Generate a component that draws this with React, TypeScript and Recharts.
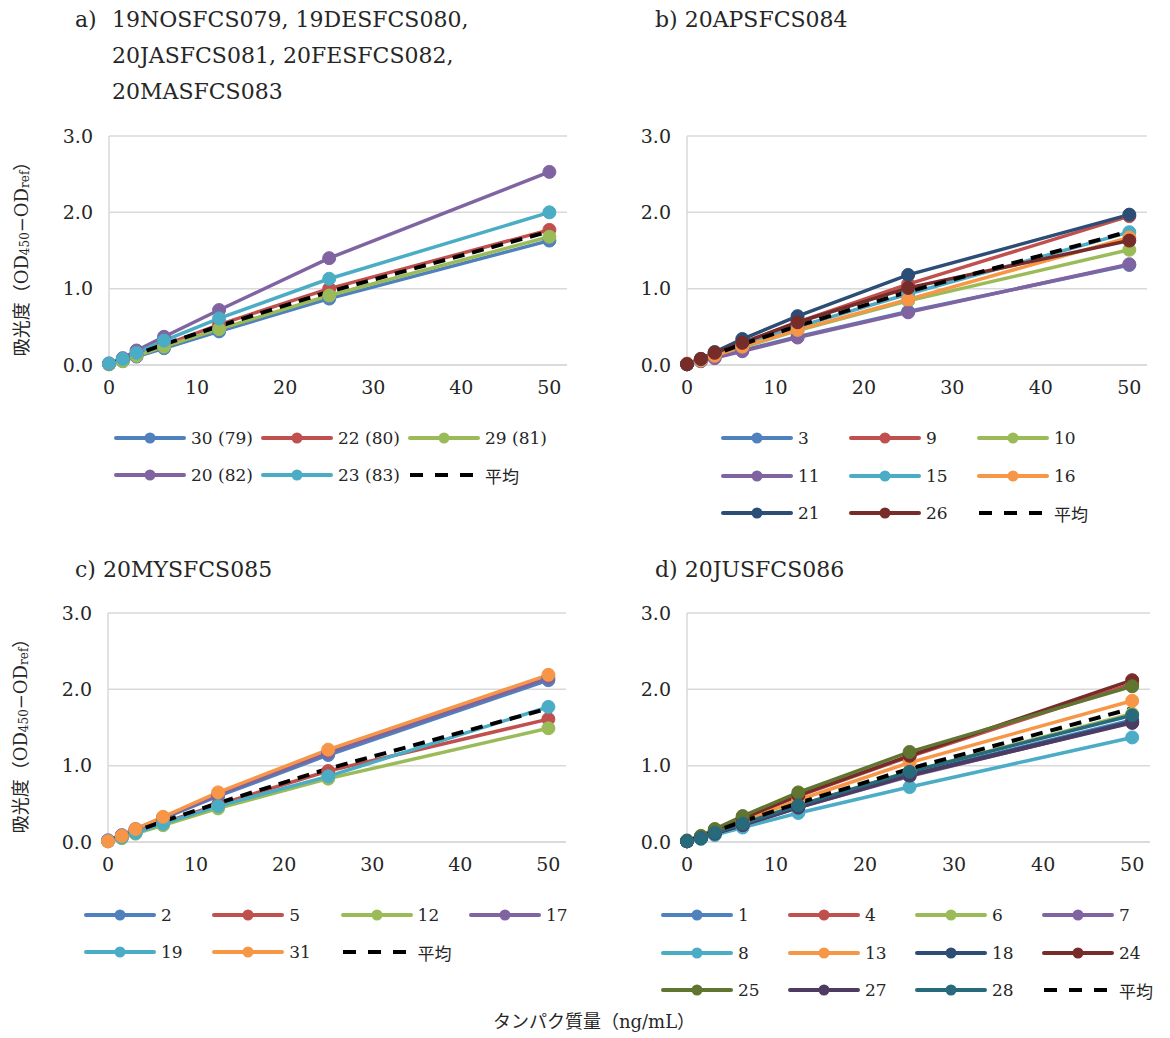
import React from 'react';
import { LineChart, Line, XAxis, YAxis, CartesianGrid, Label } from 'recharts';

const FONT = '"DejaVu Serif", "Noto Sans CJK JP", serif';
const TXT = '#262626';

// x values (ng/mL)
const xValues = [0, 1.5625, 3.125, 6.25, 12.5, 25, 50];
const xTicks = [0, 10, 20, 30, 40, 50];
const yTicks = [0, 1, 2, 3];

// average (平均) shared by all panels
const averageValues = [0.01, 0.07, 0.14, 0.27, 0.51, 0.96, 1.75];

const palette = ['#4F81BD', '#C0504D', '#9BBB59', '#8064A2', '#4BACC6', '#F79646', '#2C4D75', '#772C2A', '#5F7530', '#4D3B62', '#276A7C'];

// Panel a
const labelsA = ['30 (79)', '22 (80)', '29 (81)', '20 (82)', '23 (83)'];
const valuesA = [
  [0.01, 0.05, 0.11, 0.22, 0.44, 0.87, 1.63],
  [0.01, 0.06, 0.13, 0.26, 0.53, 1.0, 1.77],
  [0.01, 0.05, 0.12, 0.24, 0.47, 0.91, 1.68],
  [0.02, 0.09, 0.19, 0.37, 0.72, 1.4, 2.53],
  [0.02, 0.08, 0.16, 0.32, 0.61, 1.13, 2.0],
];
const colorsA = [palette[0], palette[1], palette[2], palette[3], palette[4]];

// Panel b
const labelsB = ['3', '9', '10', '11', '15', '16', '21', '26'];
const valuesB = [
  [0.01, 0.05, 0.1, 0.19, 0.37, 0.7, 1.31],
  [0.01, 0.07, 0.14, 0.29, 0.56, 1.06, 1.95],
  [0.01, 0.06, 0.12, 0.23, 0.45, 0.84, 1.51],
  [0.01, 0.05, 0.09, 0.18, 0.36, 0.69, 1.32],
  [0.01, 0.06, 0.13, 0.26, 0.5, 0.93, 1.74],
  [0.02, 0.06, 0.12, 0.24, 0.46, 0.86, 1.67],
  [0.01, 0.08, 0.17, 0.34, 0.64, 1.18, 1.97],
  [0.01, 0.08, 0.16, 0.29, 0.56, 1.01, 1.63],
];
const colorsB = palette.slice(0, 8);

// Panel c
const labelsC = ['2', '5', '12', '17', '19', '31'];
const valuesC = [
  [0.02, 0.08, 0.16, 0.31, 0.6, 1.14, 2.12],
  [0.01, 0.06, 0.12, 0.25, 0.49, 0.93, 1.61],
  [0.01, 0.05, 0.11, 0.22, 0.44, 0.83, 1.49],
  [0.02, 0.09, 0.17, 0.32, 0.62, 1.17, 2.15],
  [0.01, 0.06, 0.12, 0.24, 0.47, 0.86, 1.77],
  [0.01, 0.08, 0.17, 0.33, 0.65, 1.21, 2.19],
];
const colorsC = palette.slice(0, 6);

// Panel d
const labelsD = ['1', '4', '6', '7', '8', '13', '18', '24', '25', '27', '28'];
const valuesD = [
  [0.01, 0.05, 0.11, 0.22, 0.46, 0.88, 1.6],
  [0.01, 0.07, 0.15, 0.3, 0.6, 1.12, 2.07],
  [0.01, 0.06, 0.12, 0.25, 0.48, 0.92, 1.68],
  [0.01, 0.05, 0.11, 0.22, 0.45, 0.86, 1.57],
  [0.01, 0.04, 0.09, 0.19, 0.38, 0.72, 1.37],
  [0.01, 0.06, 0.13, 0.27, 0.55, 1.04, 1.85],
  [0.01, 0.05, 0.11, 0.23, 0.46, 0.88, 1.58],
  [0.01, 0.07, 0.16, 0.31, 0.61, 1.13, 2.12],
  [0.02, 0.08, 0.17, 0.34, 0.65, 1.18, 2.04],
  [0.01, 0.05, 0.11, 0.22, 0.45, 0.87, 1.56],
  [0.01, 0.05, 0.12, 0.24, 0.48, 0.92, 1.66],
];
const colorsD = palette.slice(0, 11);

const AVG_LABEL = '平均';

const YW = 109;
const MT = 10;
const MR = 5;
const XH = 40;

function YTitle(props: any) {
  const vb = props.viewBox || { x: 0, y: 0, width: 0, height: 0 };
  const cx = 21;
  const cy = vb.y + vb.height / 2 + 4;
  return (
    <text
      x={cx}
      y={cy}
      transform={`rotate(-90 ${cx} ${cy})`}
      textAnchor="middle"
      dominantBaseline="central"
      fontSize={18}
      fontFamily={FONT}
      fill={TXT}
    >
      吸光度（OD
      <tspan fontSize={12} dy={4}>450</tspan>
      <tspan dy={-4}>−OD</tspan>
      <tspan fontSize={12} dy={4}>ref</tspan>
      <tspan dy={-4}>）</tspan>
    </text>
  );
}

type PanelProps = {
  L: number; T: number; R: number; B: number;
  labels: string[]; values: number[][]; colors: string[];
  yTitle: boolean;
};

function Panel({ L, T, R, B, labels, values, colors, yTitle }: PanelProps) {
  const data = xValues.map((x, i) => {
    const row: any = { x, avg: averageValues[i] };
    values.forEach((s, k) => { row['s' + k] = s[i]; });
    return row;
  });
  const width = R - L + YW + MR;
  const height = B - T + MT + XH;
  return (
    <div style={{ position: 'absolute', left: L - YW, top: T - MT, width, height }}>
      <LineChart width={width} height={height} data={data} margin={{ top: MT, right: MR, bottom: 0, left: 0 }}>
        <CartesianGrid vertical={false} stroke="#D9D9D9" strokeWidth={1.5} />
        <XAxis
          dataKey="x"
          type="number"
          domain={[0, 52]}
          ticks={xTicks}
          interval={0}
          height={XH}
          tickLine={false}
          tickSize={0}
          tickMargin={16}
          axisLine={{ stroke: '#D9D9D9', strokeWidth: 1.5 }}
          tick={{ fill: TXT, fontSize: 19, fontFamily: FONT }}
          allowDecimals={false}
        />
        <YAxis
          type="number"
          domain={[0, 3]}
          ticks={yTicks}
          interval={0}
          width={YW}
          tickLine={false}
          tickSize={0}
          tickMargin={16}
          axisLine={{ stroke: '#D9D9D9', strokeWidth: 1.5 }}
          tick={{ fill: TXT, fontSize: 19, fontFamily: FONT }}
          tickFormatter={(v: number) => v.toFixed(1)}
        >
          {yTitle ? <Label content={(p: any) => <YTitle {...p} />} /> : null}
        </YAxis>
        {values.map((_, k) => (
          <Line
            key={k}
            type="linear"
            dataKey={'s' + k}
            stroke={colors[k]}
            strokeWidth={3.5}
            dot={{ r: 6.5, fill: colors[k], stroke: colors[k], strokeWidth: 1 }}
            activeDot={false}
            isAnimationActive={false}
          />
        ))}
        <Line
          type="linear"
          dataKey="avg"
          stroke="#000000"
          strokeWidth={4}
          strokeDasharray="12 8"
          dot={false}
          activeDot={false}
          isAnimationActive={false}
        />
      </LineChart>
    </div>
  );
}

type LegendProps = {
  labels: string[]; colors: string[];
  left: number; colW: number; rows: number[]; perRow: number;
};

function LegendBox({ labels, colors, left, colW, rows, perRow }: LegendProps) {
  const items = labels.map((l, i) => ({ label: l, color: colors[i], avg: false }));
  items.push({ label: AVG_LABEL, color: '#000', avg: true });
  return (
    <>
      {items.map((it, i) => {
        const r = Math.floor(i / perRow);
        const c = i % perRow;
        return (
          <div
            key={i}
            style={{
              position: 'absolute',
              left: left + c * colW,
              top: rows[r] - 11,
              height: 22,
              display: 'flex',
              alignItems: 'center',
              whiteSpace: 'nowrap',
              fontFamily: FONT,
              fontSize: 17,
              color: TXT,
            }}
          >
            <svg width={72} height={14} style={{ display: 'block' }}>
              {it.avg ? (
                <line x1={2} x2={70} y1={7} y2={7} stroke="#000" strokeWidth={4} strokeDasharray="13 12" />
              ) : (
                <>
                  <line x1={2} x2={70} y1={7} y2={7} stroke={it.color} strokeWidth={4} strokeLinecap="round" />
                  <circle cx={36} cy={7} r={5.5} fill={it.color} />
                </>
              )}
            </svg>
            <span style={{ marginLeft: 5 }}>{it.label}</span>
          </div>
        );
      })}
    </>
  );
}

export default function App() {
  const titleStyle: React.CSSProperties = {
    position: 'absolute',
    fontFamily: FONT,
    fontSize: 22,
    lineHeight: '36px',
    color: TXT,
    whiteSpace: 'nowrap',
  };
  return (
    <div style={{ position: 'absolute', left: 0, top: 0, width: 1170, height: 1038, background: '#fff', overflow: 'hidden' }}>
      <div style={{ ...titleStyle, left: 75, top: 2 }}>a)</div>
      <div style={{ ...titleStyle, left: 112, top: 2 }}>
        19NOSFCS079, 19DESFCS080,<br />20JASFCS081, 20FESFCS082,<br />20MASFCS083
      </div>
      <div style={{ ...titleStyle, left: 655, top: 2 }}>b) 20APSFCS084</div>
      <div style={{ ...titleStyle, left: 75, top: 552 }}>c) 20MYSFCS085</div>
      <div style={{ ...titleStyle, left: 655, top: 552 }}>d) 20JUSFCS086</div>

      <Panel L={109} T={136} R={567} B={365} labels={labelsA} values={valuesA} colors={colorsA} yTitle={true} />
      <Panel L={687} T={136} R={1147} B={365} labels={labelsB} values={valuesB} colors={colorsB} yTitle={false} />
      <Panel L={108} T={613} R={566} B={842} labels={labelsC} values={valuesC} colors={colorsC} yTitle={true} />
      <Panel L={687} T={613} R={1150} B={842} labels={labelsD} values={valuesD} colors={colorsD} yTitle={false} />

      <LegendBox labels={labelsA} colors={colorsA} left={114} colW={147} rows={[438, 475]} perRow={3} />
      <LegendBox labels={labelsB} colors={colorsB} left={721} colW={128} rows={[438, 476, 513]} perRow={3} />
      <LegendBox labels={labelsC} colors={colorsC} left={84} colW={128.3} rows={[915, 952]} perRow={4} />
      <LegendBox labels={labelsD} colors={colorsD} left={661} colW={127} rows={[915, 953, 990]} perRow={4} />

      <div
        style={{
          position: 'absolute',
          left: 394,
          width: 400,
          top: 1010,
          textAlign: 'center',
          fontFamily: FONT,
          fontSize: 18,
          lineHeight: '24px',
          color: TXT,
        }}
      >
        タンパク質量（ng/mL）
      </div>
    </div>
  );
}
